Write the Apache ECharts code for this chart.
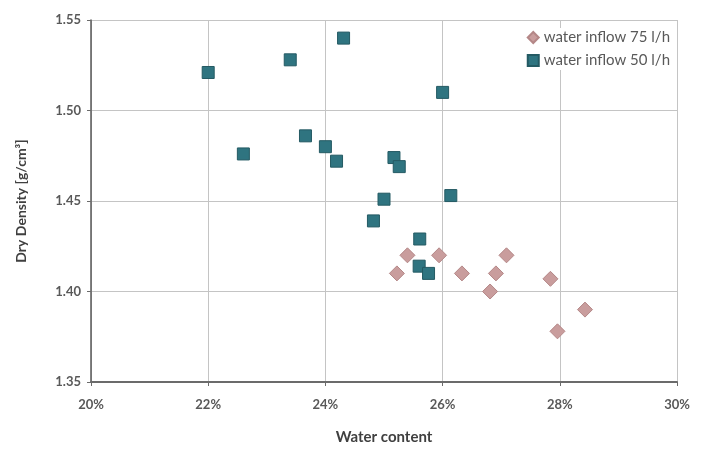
<!DOCTYPE html>
<html><head><meta charset="utf-8">
<script src="https://cdn.jsdelivr.net/npm/echarts@6/dist/echarts.min.js"></script>
<style>html,body{margin:0;padding:0;background:#fff}#c{width:702px;height:450px}</style>
</head><body><div id="c"></div>
<script>
const seriesNames = ['water inflow 75 l/h', 'water inflow 50 l/h'];
const inflow75 = [
  [25.22, 1.410], [25.40, 1.420], [25.94, 1.420], [26.33, 1.410], [27.09, 1.420],
  [26.91, 1.410], [26.81, 1.400], [27.84, 1.407], [28.43, 1.390], [27.96, 1.378]
];
const inflow50 = [
  [22.00, 1.521], [23.40, 1.528], [24.31, 1.540], [26.00, 1.510], [22.60, 1.476],
  [23.66, 1.486], [24.00, 1.480], [24.19, 1.472], [25.17, 1.474], [25.26, 1.469],
  [25.00, 1.451], [26.14, 1.453], [24.82, 1.439], [25.61, 1.429], [25.60, 1.414],
  [25.76, 1.410]
];
const xTicks = { min: 20, max: 30, step: 2 };
const yTicks = { min: 1.35, max: 1.55, step: 0.05 };

const font = 'Lato, "Open Sans", sans-serif';
const chart = echarts.init(document.getElementById('c'), null, { renderer: 'canvas' });
chart.setOption({
  animation: false,
  backgroundColor: '#fff',
  grid: { left: 91, right: 25, top: 20, bottom: 67 },
  legend: {
    right: 28, top: 28, orient: 'vertical', itemGap: 8,
    itemWidth: 11, itemHeight: 11, backgroundColor: '#fff',
    padding: [2, 4, 2, 4],
    textStyle: { color: '#595959', fontSize: 15, fontFamily: font },
    data: [
      { name: seriesNames[0], icon: 'diamond' },
      { name: seriesNames[1], icon: 'rect' }
    ]
  },
  xAxis: {
    type: 'value', min: xTicks.min, max: xTicks.max, interval: xTicks.step,
    name: 'Water content', nameLocation: 'middle', nameGap: 48,
    nameTextStyle: { color: '#404040', fontSize: 15, fontWeight: 'bold', fontFamily: font },
    axisLine: { show: true, lineStyle: { color: '#6b6b6b', width: 2 } },
    axisTick: { show: true, length: 4, lineStyle: { color: '#6b6b6b' } },
    axisLabel: { formatter: '{value}%', color: '#595959', fontSize: 13, fontWeight: 'bold', fontFamily: font, margin: 16 },
    splitLine: { show: true, lineStyle: { color: '#c4c4c4', width: 1 } }
  },
  yAxis: {
    type: 'value', min: yTicks.min, max: yTicks.max, interval: yTicks.step,
    name: 'Dry Density [g/cm³]', nameLocation: 'middle', nameGap: 63, nameRotate: 90,
    nameTextStyle: { color: '#404040', fontSize: 14, fontWeight: 'bold', fontFamily: font },
    axisLine: { show: true, lineStyle: { color: '#5a5a5a', width: 1.5 } },
    axisTick: { show: true, length: 4, lineStyle: { color: '#6b6b6b' } },
    axisLabel: { formatter: v => v.toFixed(2), color: '#595959', fontSize: 13, fontWeight: 'bold', fontFamily: font, margin: 10 },
    splitLine: { show: true, lineStyle: { color: '#c4c4c4', width: 1 } }
  },
  series: [
    {
      name: seriesNames[0], type: 'scatter', symbol: 'diamond', symbolSize: 15,
      itemStyle: { color: '#c99d9d', borderColor: '#b48787', borderWidth: 1, opacity: 1 },
      data: inflow75, z: 3
    },
    {
      name: seriesNames[1], type: 'scatter', symbol: 'rect', symbolSize: 12,
      itemStyle: { color: '#2f7480', borderColor: '#245a63', borderWidth: 1, opacity: 1 },
      data: inflow50, z: 4
    }
  ]
});
</script></body></html>
